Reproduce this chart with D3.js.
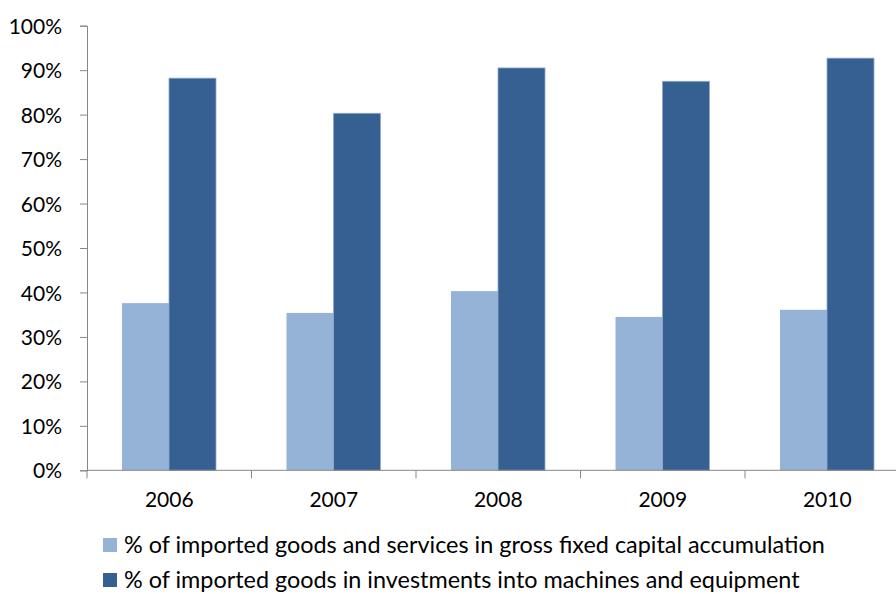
<!DOCTYPE html>
<html><head><meta charset="utf-8">
<script src="https://cdn.jsdelivr.net/npm/d3@7"></script>
<style>body{margin:0;background:#fff}svg text{font-family:Lato,"Open Sans",sans-serif;fill:#000}</style>
</head><body><svg id="c" width="896" height="594"></svg>
<script>
const categories = ["2006","2007","2008","2009","2010"];
const seriesNames = ["% of imported goods and services in gross fixed capital accumulation","% of imported goods in investments into machines and equipment"];
const lightValues = [37.6, 35.4, 40.3, 34.5, 36.1];
const darkValues = [88.2, 80.3, 90.5, 87.5, 92.7];
const yTicks = [0,10,20,30,40,50,60,70,80,90,100];
const colors = ["#95B3D7","#366092"];

(function(){
const svg = d3.select("#c");
const left = 87, bandW = 164.5, plotTop = 25.7, bottom = 470.3;
const x = d3.scaleBand().domain(categories).range([left, left + bandW*categories.length]).paddingInner(0).paddingOuter(0);
const y = d3.scaleLinear().domain([0,100]).range([bottom, plotTop]);
const inner = d3.scaleBand().domain([0,1]).range([35, 129]);

const axisColor = "#868686";
const yAxis = svg.append("g").attr("transform",`translate(${left},0)`)
  .call(d3.axisLeft(y).tickValues(yTicks).tickFormat(d=>d+"%").tickSizeOuter(0).tickSize(7).tickPadding(18));
yAxis.select(".domain").attr("stroke",axisColor);
yAxis.selectAll(".tick line").attr("stroke",axisColor);
yAxis.selectAll("text").style("font-size","21px").attr("dy","0.36em");

const series = [lightValues, darkValues];
series.forEach((vals,si)=>{
  svg.append("g").selectAll("rect").data(categories).join("rect")
    .attr("x", d=>x(d)+inner(si))
    .attr("width", inner.bandwidth())
    .attr("y", (d,i)=>y(vals[i]))
    .attr("height", (d,i)=>y(0)-y(vals[i]))
    .attr("fill", colors[si])
    .attr("stroke", si===1 ? "#8FAACF" : "none")
    .attr("stroke-width", 0.8);
});

const xAxis = svg.append("g").attr("transform",`translate(0,${bottom})`)
  .call(d3.axisBottom(x).tickSize(0).tickPadding(22));
xAxis.select(".domain").remove();
svg.append("line").attr("x1",left).attr("x2",896).attr("y1",bottom).attr("y2",bottom).attr("stroke",axisColor);
const bounds = d3.range(categories.length).map(i=>left + i*bandW);
svg.append("g").selectAll("line").data(bounds).join("line")
  .attr("x1",d=>d).attr("x2",d=>d).attr("y1",bottom).attr("y2",bottom+8).attr("stroke",axisColor);
xAxis.selectAll("text").style("font-size","21px").attr("dy","0.71em");

const leg = svg.append("g");
seriesNames.forEach((n,i)=>{
  const cy = 545 + i*35;
  leg.append("rect").attr("x",103).attr("y",cy-7).attr("width",14).attr("height",14).attr("fill",colors[i]);
  leg.append("text").attr("x",124).attr("y",cy).attr("dy","0.36em").style("font-size","23.4px").text(n);
});
})();
</script></body></html>
